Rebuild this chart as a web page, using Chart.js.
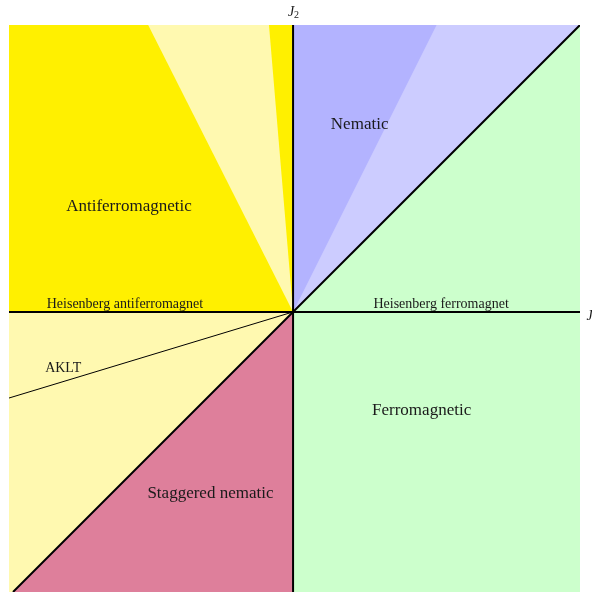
<!DOCTYPE html>
<html>
<head>
<meta charset="utf-8">
<script src="https://cdn.jsdelivr.net/npm/chart.js@4/dist/chart.umd.min.js"></script>
<style>
html,body{margin:0;padding:0;background:#fff;}
#wrap{width:592px;height:592px;}
</style>
</head>
<body>
<div id="wrap"><canvas id="c" width="592" height="592"></canvas></div>
<script>
// Axis ranges (J horizontal, J2 vertical)
const xRange = [-0.99, 1];
const yRange = [-0.976, 1];

// Phase-region polygons (vertices in J, J2 units)
const afmQuadrant   = [[-0.99,0],[-0.99,1],[0,1],[0,0]];
const afmLightWedge = [[0,0],[-0.505,1],[-0.084,1]];
const nematicLight  = [[0,0],[0,1],[1,1]];
const nematicDark   = [[0,0],[0,1],[0.5,1]];
const ferroHalf     = [[0,-0.976],[0,1],[1,1],[1,-0.976]];
const lowerLeft     = [[-0.99,0],[0,0],[0,-0.976],[-0.99,-0.976]];
const staggered     = [[0,0],[-0.976,-0.976],[0,-0.976]];

// Boundary lines
const axisJ      = [[-0.99,0],[1,0]];
const axisJ2     = [[0,-0.976],[0,1]];
const diagonal   = [[-0.976,-0.976],[1,1]];
const akltLine   = [[0,0],[-0.99,-0.30]];

// Text labels: [text, J, J2, fontSize, align]
const regionLabels = [
  ['Antiferromagnetic', -0.572, 0.366, 17, 'center'],
  ['Nematic', 0.232, 0.652, 17, 'center'],
  ['Heisenberg antiferromagnet', -0.586, 0.028, 14, 'center'],
  ['Heisenberg ferromagnet', 0.516, 0.026, 14, 'center'],
  ['AKLT', -0.864, -0.197, 14, 'left'],
  ['Ferromagnetic', 0.448, -0.344, 17, 'center'],
  ['Staggered nematic', -0.288, -0.632, 17, 'center']
];

const pts = a => a.map(p => ({x:p[0], y:p[1]}));

function region(data, color, order){
  return {data: pts(data), showLine:true, fill:'shape', backgroundColor:color,
    borderWidth:0, borderColor:'rgba(0,0,0,0)', pointRadius:0, order:order};
}
function line(data, width, order){
  return {data: pts(data), showLine:true, fill:false, borderColor:'#000',
    borderWidth:width, pointRadius:0, order:order};
}

const labelPlugin = {
  id:'labels',
  afterDatasetsDraw(chart){
    const ctx = chart.ctx, xs = chart.scales.x, ys = chart.scales.y;
    ctx.save();
    ctx.fillStyle = '#1a1a1a';
    ctx.textBaseline = 'middle';
    regionLabels.forEach(l => {
      ctx.font = l[3] + 'px "Liberation Serif", "Times New Roman", serif';
      ctx.textAlign = l[4];
      ctx.fillText(l[0], xs.getPixelForValue(l[1]), ys.getPixelForValue(l[2]));
    });
    // Axis titles
    const drawJ = (x, y, sub) => {
      ctx.font = 'italic 14px "Liberation Serif", serif';
      ctx.textAlign = 'left';
      const w = ctx.measureText('J').width;
      ctx.fillText('J', x, y);
      if (sub) {
        ctx.font = '10px "Liberation Serif", serif';
        ctx.fillText(sub, x + w, y + 3);
      }
    };
    drawJ(xs.getPixelForValue(-0.018), ys.getPixelForValue(1.044), '2');
    drawJ(xs.getPixelForValue(1.023), ys.getPixelForValue(-0.016), '');
    ctx.restore();
  }
};

new Chart(document.getElementById('c'), {
  type:'scatter',
  data:{datasets:[
    line(axisJ, 2, 0),
    line(axisJ2, 2, 0),
    line(diagonal, 2, 0),
    line(akltLine, 1, 0),
    region(staggered, '#de7f9b', 1),
    region(nematicDark, '#b3b3ff', 1),
    region(afmLightWedge, '#fff9b0', 1),
    region(nematicLight, '#ccccff', 2),
    region(afmQuadrant, '#fff000', 3),
    region(lowerLeft, '#fff9b0', 3),
    region(ferroHalf, '#ccffcc', 3)
  ]},
  options:{
    responsive:false,
    animation:false,
    layout:{padding:{left:9, right:12, top:25, bottom:0}},
    plugins:{legend:{display:false}, tooltip:{enabled:false}},
    scales:{
      x:{type:'linear', min:xRange[0], max:xRange[1], display:false},
      y:{type:'linear', min:yRange[0], max:yRange[1], display:false}
    }
  },
  plugins:[labelPlugin]
});
</script>
</body>
</html>
